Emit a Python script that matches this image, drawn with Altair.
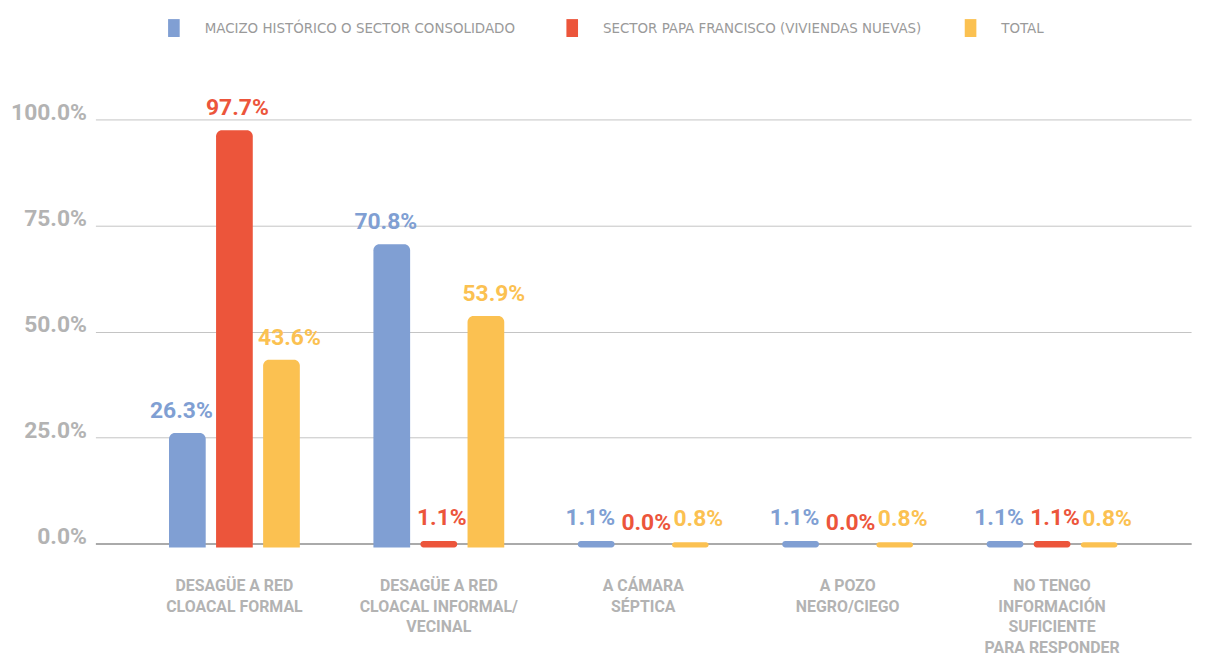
import altair as alt
import pandas as pd

categories = [
    "DESAGÜE A RED|CLOACAL FORMAL",
    "DESAGÜE A RED|CLOACAL INFORMAL/|VECINAL",
    "A CÁMARA|SÉPTICA",
    "A POZO|NEGRO/CIEGO",
    "NO TENGO|INFORMACIÓN|SUFICIENTE|PARA RESPONDER",
]
series = [
    "MACIZO HISTÓRICO O SECTOR CONSOLIDADO",
    "SECTOR PAPA FRANCISCO (VIVIENDAS NUEVAS)",
    "TOTAL",
]
macizo = [26.3, 70.8, 1.1, 1.1, 1.1]
papa = [97.7, 1.1, 0.0, 0.0, 1.1]
total = [43.6, 53.9, 0.8, 0.8, 0.8]
colors = ["#809FD3", "#EC553B", "#FBC151"]
label_dx = [-6, 3, 8]
y_ticks = [0, 0.25, 0.5, 0.75, 1.0]

rows = []
for i, c in enumerate(categories):
    for s, vals in zip(series, [macizo, papa, total]):
        rows.append({"cat": c, "serie": s, "val": vals[i] / 100})
df = pd.DataFrame(rows)

gray = "#b3b3b3"
font = "Roboto"

x = alt.X(
    "cat:N",
    sort=categories,
    scale=alt.Scale(paddingInner=0.36, paddingOuter=0.36),
    axis=alt.Axis(
        title=None,
        labelExpr="split(datum.label, '|')",
        labelAngle=0,
        labelFont=font,
        labelFontWeight="bold",
        labelFontSize=16,
        labelColor=gray,
        labelPadding=47,
        labelLineHeight=21,
        labelBaseline="alphabetic",
        ticks=False,
        domain=True,
        domainColor="#aaaaaa",
        domainWidth=2,
    ),
)
xoff = alt.XOffset("serie:N", sort=series, scale=alt.Scale(paddingInner=0.22))
y = alt.Y(
    "val:Q",
    stack=None,
    scale=alt.Scale(domain=[0, 1]),
    axis=alt.Axis(
        title=None,
        format=".1%",
        values=y_ticks,
        labelFont=font,
        labelFontWeight="bold",
        labelFontSize=23,
        labelColor=gray,
        labelPadding=9,
        labelBaseline="alphabetic",
        domain=False,
        ticks=False,
        gridColor="#c4c4c4",
        gridWidth=1,
    ),
)
color_scale = alt.Scale(domain=series, range=colors)

color_enc = alt.Color(
    "serie:N",
    scale=color_scale,
    sort=series,
    legend=alt.Legend(
        title=None,
        orient="none",
        legendX=70,
        legendY=-101,
        direction="horizontal",
        gridAlign="all",
        symbolType="M-0.65,-1H0.65V1H-0.65Z",
        symbolSize=324,
        symbolStrokeWidth=0,
        labelFont="DejaVu Sans Condensed",
        labelFontSize=15,
        labelColor="#9a9a9a",
        labelOffset=22,
        labelLimit=0,
        columnPadding=40,
    ),
)

base = alt.Chart(df).encode(
    x=x, xOffset=xoff, y=y, y2=alt.datum(0), color=color_enc
)

big_bars = base.transform_filter("datum.val >= 0.05").mark_bar(
    yOffset=1,
    y2Offset=4,
    cornerRadiusTopLeft=6,
    cornerRadiusTopRight=6,
)
small_bars = base.transform_filter("datum.val < 0.05 && datum.val > 0").mark_bar(
    yOffset=2,
    y2Offset=4,
    cornerRadius=3,
)

text_layers = []
for s, c, d in zip(series, colors, label_dx):
    text_layers.append(
        alt.Chart(df)
        .transform_filter(alt.datum.serie == s)
        .mark_text(
            baseline="alphabetic",
            dy=-14,
            dx=d,
            font=font,
            fontWeight="bold",
            fontSize=23,
            color=c,
        )
        .encode(
            x=x,
            xOffset=xoff,
            y=y,
            text=alt.Text("val:Q", format=".1%"),
        )
    )

chart = (
    alt.layer(big_bars, small_bars, *text_layers)
    .properties(
        width=1103,
        height=427,
        padding={"left": 88, "top": 110, "right": 12, "bottom": 112},
        autosize=alt.AutoSizeParams(type="none"),
    )
    .configure_view(stroke=None)
)

chart.save("out.html", embed_options={"renderer": "svg", "actions": False})
